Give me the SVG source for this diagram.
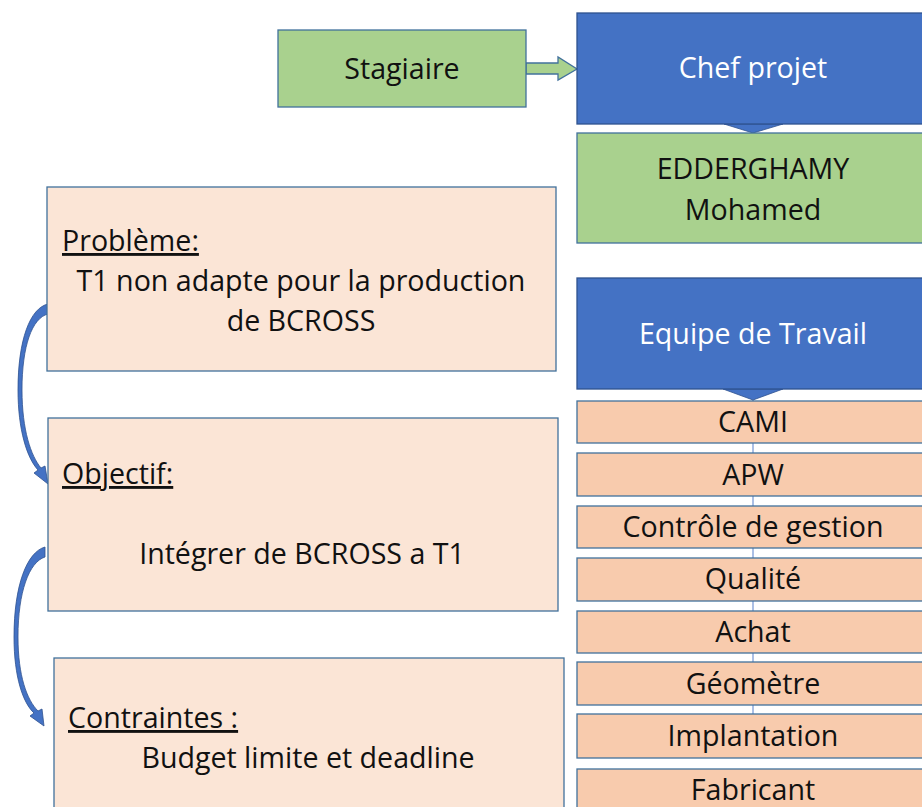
<svg xmlns="http://www.w3.org/2000/svg" width="922" height="807" viewBox="0 0 922 807">
<style>
.t{font-family:"Open Sans",Lato,"Liberation Sans",sans-serif;font-size:28.6px;fill:#111}
.w{fill:#fff}
.c{text-anchor:middle}
.u{text-decoration:underline}
.green{fill:#A9D18E;stroke:#41719C;stroke-width:1.3}
.blue{fill:#4472C4;stroke:#2F528F;stroke-width:1.3}
.peach{fill:#FBE5D6;stroke:#41719C;stroke-width:1.3}
.item{fill:#F8CBAD;stroke:#41719C;stroke-width:1.3}
.link{stroke:#8FAADC;stroke-width:1.5;fill:none}
.curve{fill:#4472C4;stroke:#2F528F;stroke-width:0.8}
</style>
<rect width="922" height="807" fill="#fff"/>
<g id="connectors">
  <line class="link" x1="753" y1="400" x2="753" y2="714"/>
  <path class="green" d="M526 63 L558 63 L558 57 L577 69 L558 80 L558 74 L526 74 Z"/>
  <polygon points="724,124 783,124 753,133" fill="#4472C4" stroke="#2F528F" stroke-width="0.8"/>
  <polygon points="723,389 783,389 753,400" fill="#4472C4" stroke="#2F528F" stroke-width="0.8"/>
  <path class="curve" d="M48 304 C30 308 18 340 18 390 C18 430 27 458 38 470 L34 473 L48 484 L45 466 L41 468 C31 456 22 430 22 390 C22 346 32 318 48 314 Z"/>
  <path class="curve" d="M45 547 C27 552 14 585 14 637 C14 677 23 703 34 713 L30 716 L44 726 L42 709 L38 711 C27 700 18 676 18 637 C18 592 29 562 45 557 Z"/>
</g>
<g id="stagiaire">
  <rect class="green" x="278" y="30" width="248" height="77"/>
  <text class="t c" x="402" y="79">Stagiaire</text>
</g>
<g id="chef">
  <rect class="blue" x="577" y="13" width="353" height="111"/>
  <text class="t c w" x="753" y="78">Chef projet</text>
</g>
<g id="edderghamy">
  <rect class="green" x="577" y="133" width="353" height="110"/>
  <text class="t c" x="753" y="179">EDDERGHAMY</text>
  <text class="t c" x="753" y="220">Mohamed</text>
</g>
<g id="equipe">
  <rect class="blue" x="577" y="278" width="353" height="111"/>
  <text class="t c w" x="753" y="344">Equipe de Travail</text>
</g>
<g id="cami"><rect class="item" x="577" y="401" width="353" height="42"/><text class="t c" x="753" y="432">CAMI</text></g>
<g id="apw"><rect class="item" x="577" y="453" width="353" height="43"/><text class="t c" x="753" y="485">APW</text></g>
<g id="controle"><rect class="item" x="577" y="506" width="353" height="42"/><text class="t c" x="753" y="537">Contrôle de gestion</text></g>
<g id="qualite"><rect class="item" x="577" y="558" width="353" height="43"/><text class="t c" x="753" y="589">Qualité</text></g>
<g id="achat"><rect class="item" x="577" y="611" width="353" height="42"/><text class="t c" x="753" y="642">Achat</text></g>
<g id="geometre"><rect class="item" x="577" y="662" width="353" height="43"/><text class="t c" x="753" y="694">Géomètre</text></g>
<g id="implantation"><rect class="item" x="577" y="714" width="353" height="44"/><text class="t c" x="753" y="746">Implantation</text></g>
<g id="fabricant"><rect class="item" x="577" y="769" width="353" height="44"/><text class="t c" x="753" y="800">Fabricant</text></g>
<g id="probleme">
  <rect class="peach" x="47" y="187" width="509" height="184"/>
  <text class="t u" x="62" y="251">Problème:</text>
  <text class="t c" x="301" y="291">T1 non adapte pour la production</text>
  <text class="t c" x="301" y="331">de BCROSS</text>
</g>
<g id="objectif">
  <rect class="peach" x="48" y="418" width="510" height="193"/>
  <text class="t u" x="62" y="484">Objectif:</text>
  <text class="t c" x="302" y="564">Intégrer de BCROSS a T1</text>
</g>
<g id="contraintes">
  <rect class="peach" x="54" y="658" width="510" height="160"/>
  <text class="t u" x="68" y="728">Contraintes :</text>
  <text class="t c" x="308" y="768">Budget limite et deadline</text>
</g>
</svg>
